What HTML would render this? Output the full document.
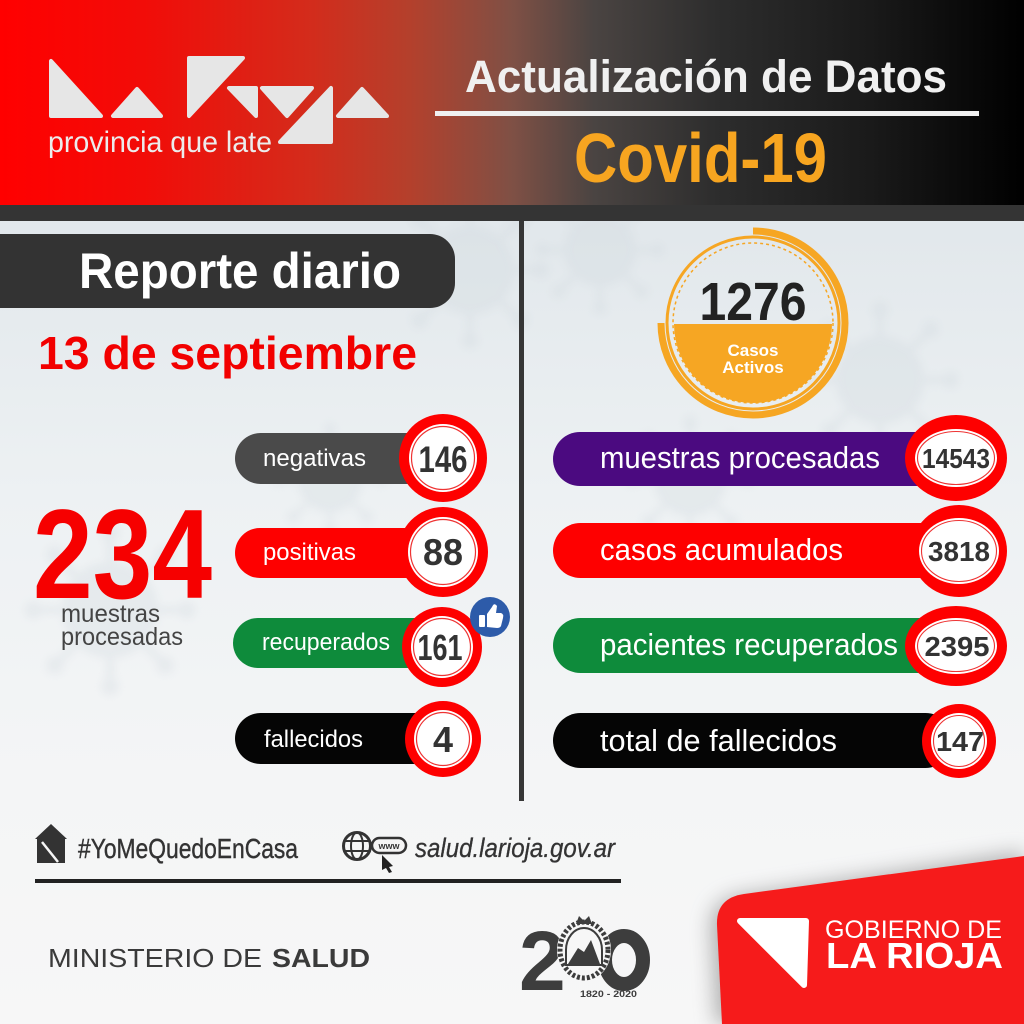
<!DOCTYPE html>
<html><head><meta charset="utf-8"><style>
html,body{margin:0;padding:0;width:1024px;height:1024px;overflow:hidden;background:#f2f4f5}
svg{display:block}
text{font-family:"Liberation Sans",sans-serif}
</style></head><body>
<svg width="1024" height="1024" viewBox="0 0 1024 1024" xmlns="http://www.w3.org/2000/svg">
<defs>
<linearGradient id="hdr" x1="0" x2="1" y1="0" y2="0">
<stop offset="0" stop-color="#ff0000"/>
<stop offset="0.14" stop-color="#f20c08"/>
<stop offset="0.3" stop-color="#d42b1b"/>
<stop offset="0.4" stop-color="#b4402c"/>
<stop offset="0.5" stop-color="#7f5045"/>
<stop offset="0.58" stop-color="#4a4442"/>
<stop offset="0.7" stop-color="#2d2d2d"/>
<stop offset="0.85" stop-color="#1a1a1a"/>
<stop offset="1" stop-color="#000000"/>
</linearGradient>
<linearGradient id="bg" x1="0" x2="0" y1="0" y2="1">
<stop offset="0" stop-color="#e1e7eb"/>
<stop offset="0.35" stop-color="#edf1f3"/>
<stop offset="0.7" stop-color="#f4f5f6"/>
<stop offset="1" stop-color="#f7f7f7"/>
</linearGradient>
<filter id="blur" x="-20%" y="-20%" width="140%" height="140%"><feGaussianBlur stdDeviation="10"/></filter>
<filter id="soft"><feGaussianBlur stdDeviation="4"/></filter>
<g id="virus" fill="#cdd6dc" stroke="#cdd6dc">
<circle cx="0" cy="0" r="40" stroke="none"/>
<g stroke-width="6">
<line x1="0" y1="-40" x2="0" y2="-62"/><line x1="0" y1="40" x2="0" y2="62"/>
<line x1="-40" y1="0" x2="-62" y2="0"/><line x1="40" y1="0" x2="62" y2="0"/>
<line x1="28" y1="28" x2="44" y2="44"/><line x1="-28" y1="28" x2="-44" y2="44"/>
<line x1="28" y1="-28" x2="44" y2="-44"/><line x1="-28" y1="-28" x2="-44" y2="-44"/>
</g>
<circle cx="0" cy="-64" r="7" stroke="none"/><circle cx="0" cy="64" r="7" stroke="none"/>
<circle cx="-64" cy="0" r="7" stroke="none"/><circle cx="64" cy="0" r="7" stroke="none"/>
<circle cx="46" cy="46" r="7" stroke="none"/><circle cx="-46" cy="46" r="7" stroke="none"/>
<circle cx="46" cy="-46" r="7" stroke="none"/><circle cx="-46" cy="-46" r="7" stroke="none"/>
</g>
</defs>

<!-- body background -->
<rect x="0" y="206" width="1024" height="818" fill="url(#bg)"/>
<g opacity="0.28" filter="url(#soft)">
<use href="#virus" transform="translate(470,270) scale(1.1)"/>
<use href="#virus" transform="translate(110,610) scale(1.2)"/>
<use href="#virus" transform="translate(880,380) scale(1.1)"/>
<use href="#virus" transform="translate(690,480) scale(0.9)"/>
<use href="#virus" transform="translate(330,480) scale(0.8)"/>
<use href="#virus" transform="translate(600,250) scale(0.9)"/>
</g>

<!-- header -->
<rect x="0" y="0" width="1024" height="206" fill="url(#hdr)"/>
<rect x="0" y="205" width="1024" height="16" fill="#343434"/>

<!-- logo triangles -->
<g fill="#e6e6e6" stroke="#e6e6e6" stroke-width="4" stroke-linejoin="round">
<polygon points="51,61 51,116 101,116"/>
<polygon points="137,89 113,116 161,116"/>
<polygon points="189,58 243,58 189,116"/>
<polygon points="229,88 256,88 256,116"/>
<polygon points="262,88 312,88 287,116"/>
<polygon points="331,88 331,142 280,142"/>
<polygon points="362,89 338,116 387,116"/>
</g>
<text x="48" y="152" font-size="30" fill="#ececec" textLength="224" lengthAdjust="spacingAndGlyphs">provincia que late</text>

<text x="465" y="92" font-size="45" font-weight="bold" fill="#f0f0f0" textLength="482" lengthAdjust="spacingAndGlyphs">Actualización de Datos</text>
<rect x="435" y="111" width="544" height="5" fill="#f0f0f0"/>
<text x="574" y="182" font-size="70" font-weight="bold" fill="#f7a520" textLength="253" lengthAdjust="spacingAndGlyphs">Covid-19</text>

<!-- divider -->
<rect x="519" y="221" width="5" height="580" fill="#363636"/>

<!-- Reporte diario -->
<path d="M0 234 H430 A25 25 0 0 1 455 259 V283 A25 25 0 0 1 430 308 H0 Z" fill="#333333"/>
<text x="79" y="288" font-size="50" font-weight="bold" fill="#ffffff" textLength="322" lengthAdjust="spacingAndGlyphs">Reporte diario</text>
<text x="38" y="369" font-size="46" font-weight="bold" fill="#f20000" textLength="379" lengthAdjust="spacingAndGlyphs">13 de septiembre</text>

<!-- 234 -->
<text x="33" y="598" font-size="127" font-weight="bold" fill="#f60000" textLength="179" lengthAdjust="spacingAndGlyphs">234</text>
<text x="61" y="622" font-size="25" fill="#444444" textLength="99" lengthAdjust="spacingAndGlyphs">muestras</text>
<text x="61" y="645" font-size="25" fill="#444444" textLength="122" lengthAdjust="spacingAndGlyphs">procesadas</text>

<!-- left pills -->
<rect x="235" y="433" width="210" height="51" rx="25.5" fill="#4a4a4a"/>
<text x="263" y="466" font-size="24" fill="#ffffff" textLength="103" lengthAdjust="spacingAndGlyphs">negativas</text>
<rect x="235" y="528" width="210" height="50" rx="25" fill="#fe0000"/>
<text x="263" y="560" font-size="24" fill="#ffffff" textLength="93" lengthAdjust="spacingAndGlyphs">positivas</text>
<rect x="233" y="618" width="210" height="50" rx="25" fill="#0e8b3b"/>
<text x="262" y="650" font-size="24" fill="#ffffff" textLength="128" lengthAdjust="spacingAndGlyphs">recuperados</text>
<rect x="235" y="713" width="210" height="51" rx="25.5" fill="#050505"/>
<text x="264" y="747" font-size="24" fill="#ffffff" textLength="99" lengthAdjust="spacingAndGlyphs">fallecidos</text>

<!-- left circles -->
<g>
<circle cx="443" cy="458" r="44" fill="#fe0000"/>
<circle cx="443" cy="458" r="34" fill="#ffffff"/>
<circle cx="443" cy="458" r="31.5" fill="none" stroke="#e33" stroke-width="1.2"/>
<text x="443" y="472" font-size="37" font-weight="bold" fill="#333" text-anchor="middle" textLength="49" lengthAdjust="spacingAndGlyphs">146</text>

<circle cx="443" cy="552" r="45" fill="#fe0000"/>
<circle cx="443" cy="552" r="35" fill="#ffffff"/>
<circle cx="443" cy="552" r="32.5" fill="none" stroke="#e33" stroke-width="1.2"/>
<text x="443" y="565" font-size="37" font-weight="bold" fill="#333" text-anchor="middle" textLength="40" lengthAdjust="spacingAndGlyphs">88</text>

<circle cx="442" cy="647" r="40" fill="#fe0000"/>
<circle cx="442" cy="647" r="31" fill="#ffffff"/>
<circle cx="442" cy="647" r="28.5" fill="none" stroke="#e33" stroke-width="1.2"/>
<text x="440" y="660" font-size="36" font-weight="bold" fill="#333" text-anchor="middle" textLength="45" lengthAdjust="spacingAndGlyphs">161</text>

<circle cx="443" cy="739" r="38" fill="#fe0000"/>
<circle cx="443" cy="739" r="29" fill="#ffffff"/>
<circle cx="443" cy="739" r="26.5" fill="none" stroke="#e33" stroke-width="1.2"/>
<text x="443" y="752" font-size="36" font-weight="bold" fill="#333" text-anchor="middle" textLength="20" lengthAdjust="spacingAndGlyphs">4</text>
</g>

<!-- thumb -->
<circle cx="490" cy="617" r="20" fill="#2d5ba9"/>
<rect x="479" y="615" width="6" height="12" rx="1" fill="#fff"/>
<path d="M487 627 L487 614 L492 607 Q494 602 497 606 L496 613 L501 613 Q504 614 503 618 L501 626 Q500 628 497 628 Z" fill="#fff"/>

<!-- orange badge -->
<circle cx="753" cy="323" r="86" fill="none" stroke="#f6a623" stroke-width="3"/>
<path d="M753 231 A92 92 0 1 1 661 323" fill="none" stroke="#f6a623" stroke-width="7"/>
<circle cx="753" cy="323" r="80" fill="none" stroke="#f6a623" stroke-width="1.5" stroke-dasharray="3 3"/>
<path d="M674 324 A79 79 0 0 0 832 324 Z" fill="#f6a623"/>
<text x="753" y="320" font-size="54" font-weight="bold" fill="#222" text-anchor="middle" textLength="107" lengthAdjust="spacingAndGlyphs">1276</text>
<text x="753" y="356" font-size="17" font-weight="bold" fill="#fff" text-anchor="middle">Casos</text>
<text x="753" y="373" font-size="17" font-weight="bold" fill="#fff" text-anchor="middle">Activos</text>

<!-- right pills -->
<rect x="553" y="432" width="400" height="54" rx="27" fill="#4b0a80"/>
<text x="600" y="468" font-size="31" fill="#ffffff" textLength="280" lengthAdjust="spacingAndGlyphs">muestras procesadas</text>
<rect x="553" y="523" width="400" height="55" rx="27.5" fill="#fe0000"/>
<text x="600" y="560" font-size="31" fill="#ffffff" textLength="243" lengthAdjust="spacingAndGlyphs">casos acumulados</text>
<rect x="553" y="618" width="400" height="55" rx="27.5" fill="#0e8b3b"/>
<text x="600" y="655" font-size="31" fill="#ffffff" textLength="298" lengthAdjust="spacingAndGlyphs">pacientes recuperados</text>
<rect x="553" y="713" width="400" height="55" rx="27.5" fill="#050505"/>
<text x="600" y="751" font-size="31" fill="#ffffff" textLength="237" lengthAdjust="spacingAndGlyphs">total de fallecidos</text>

<!-- right circles -->
<ellipse cx="956" cy="458" rx="51" ry="43" fill="#fe0000"/>
<ellipse cx="956" cy="458" rx="41" ry="29" fill="#fff"/>
<ellipse cx="956" cy="458" rx="38.5" ry="26.5" fill="none" stroke="#e33" stroke-width="1.1"/>
<text x="956" y="468" font-size="28" font-weight="bold" fill="#333" text-anchor="middle" textLength="68" lengthAdjust="spacingAndGlyphs">14543</text>

<ellipse cx="959" cy="551" rx="48" ry="46" fill="#fe0000"/>
<ellipse cx="959" cy="551" rx="40" ry="33" fill="#fff"/>
<ellipse cx="959" cy="551" rx="37.5" ry="30.5" fill="none" stroke="#e33" stroke-width="1.1"/>
<text x="959" y="561" font-size="28" font-weight="bold" fill="#333" text-anchor="middle" textLength="62" lengthAdjust="spacingAndGlyphs">3818</text>

<ellipse cx="956" cy="646" rx="51" ry="40" fill="#fe0000"/>
<ellipse cx="956" cy="646" rx="41" ry="28" fill="#fff"/>
<ellipse cx="956" cy="646" rx="38.5" ry="25.5" fill="none" stroke="#e33" stroke-width="1.1"/>
<text x="957" y="656" font-size="28" font-weight="bold" fill="#333" text-anchor="middle" textLength="65" lengthAdjust="spacingAndGlyphs">2395</text>

<ellipse cx="959" cy="741" rx="37" ry="37" fill="#fe0000"/>
<ellipse cx="959" cy="741" rx="28" ry="28" fill="#fff"/>
<ellipse cx="959" cy="741" rx="25.5" ry="25.5" fill="none" stroke="#e33" stroke-width="1.1"/>
<text x="960" y="751" font-size="28" font-weight="bold" fill="#333" text-anchor="middle" textLength="48" lengthAdjust="spacingAndGlyphs">147</text>

<!-- footer icons -->
<polygon points="35,839 51,824 67,839" fill="#333"/>
<rect x="37" y="839" width="28" height="24" fill="#333"/>
<line x1="42" y1="842" x2="58" y2="862" stroke="#f5f5f5" stroke-width="2.5"/>
<text x="78" y="858" font-size="28" fill="#333" stroke="#333" stroke-width="0.4" textLength="220" lengthAdjust="spacingAndGlyphs">#YoMeQuedoEnCasa</text>

<circle cx="357" cy="846" r="13.5" fill="none" stroke="#333" stroke-width="3"/>
<ellipse cx="357" cy="846" rx="6" ry="13.5" fill="none" stroke="#333" stroke-width="2"/>
<line x1="344" y1="841" x2="370" y2="841" stroke="#333" stroke-width="2"/>
<line x1="344" y1="851" x2="370" y2="851" stroke="#333" stroke-width="2"/>
<rect x="372" y="838" width="34" height="15" rx="7.5" fill="#f5f5f5" stroke="#333" stroke-width="2.5"/>
<text x="389" y="849" font-size="9" font-weight="bold" fill="#333" text-anchor="middle">www</text>
<polygon points="382,855 393,866 389,867 392,872 389,873 386,868 382,870" fill="#222"/>
<text x="415" y="857" font-size="27" font-style="italic" fill="#333" stroke="#333" stroke-width="0.3" textLength="200" lengthAdjust="spacingAndGlyphs">salud.larioja.gov.ar</text>

<rect x="35" y="879" width="586" height="4" fill="#222"/>

<text x="48" y="967" font-size="26" fill="#3a3a3a" textLength="214" lengthAdjust="spacingAndGlyphs">MINISTERIO DE</text>
<text x="272" y="967" font-size="26" font-weight="bold" fill="#3a3a3a" textLength="98" lengthAdjust="spacingAndGlyphs">SALUD</text>

<!-- 200 logo -->
<text x="519" y="990" font-size="84" font-weight="bold" fill="#3d3d3d">2</text>
<ellipse cx="624" cy="960" rx="19" ry="24" fill="none" stroke="#3d3d3d" stroke-width="14"/>
<ellipse cx="584" cy="950" rx="27" ry="31" fill="#f7f7f7"/>
<ellipse cx="584" cy="950" rx="24" ry="28" fill="none" stroke="#3d3d3d" stroke-width="5" stroke-dasharray="3 2"/>
<path d="M566 950 A18 22 0 0 1 602 950 L602 965 L566 965 Z" fill="#f7f7f7" stroke="#3d3d3d" stroke-width="2"/>
<polygon points="568,964 578,948 584,952 591,940 600,964" fill="#3d3d3d"/>
<polygon points="576,924 579,916 584,921 589,916 592,924" fill="#3d3d3d"/>
<text x="580" y="997" font-size="9" font-weight="bold" fill="#3d3d3d" textLength="57" lengthAdjust="spacingAndGlyphs">1820 - 2020</text>

<!-- red corner -->
<path d="M716 1024 L711 930 Q709 900 742 895 L1024 852 L1024 1024 Z" fill="#777" opacity="0.55" filter="url(#blur)"/>
<path d="M722 1024 L717 925 Q716 898 744 894 L1024 856 L1024 1024 Z" fill="#f61b1b"/>
<polygon points="740,921 806,921 804,985" fill="#ffffff" stroke="#ffffff" stroke-width="6" stroke-linejoin="round"/>
<text x="825" y="938" font-size="25" fill="#ffffff" textLength="177" lengthAdjust="spacingAndGlyphs">GOBIERNO DE</text>
<text x="826" y="968" font-size="36" font-weight="bold" fill="#ffffff" textLength="177" lengthAdjust="spacingAndGlyphs">LA RIOJA</text>
</svg>
</body></html>
